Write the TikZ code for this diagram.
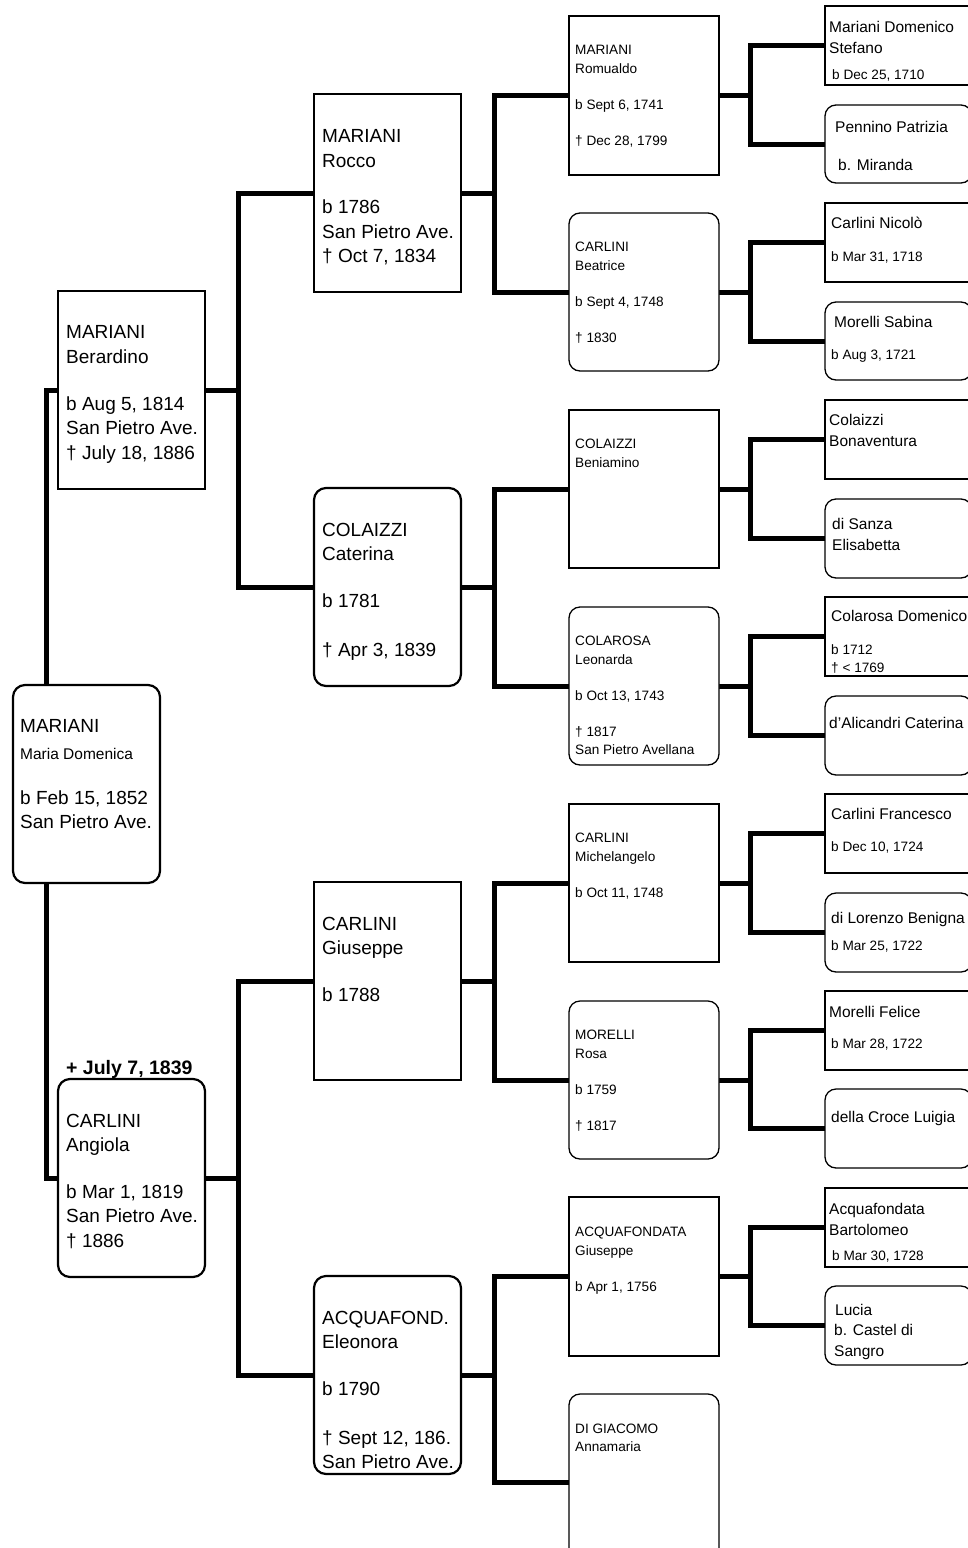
\documentclass[tikz,border=0pt]{standalone}
\usepackage{fontspec}
\setmainfont{Liberation Sans}
\usetikzlibrary{backgrounds}
\begin{document}
\begin{tikzpicture}[x=1pt,y=-1pt,
  bigsq/.style={draw,line width=2.2pt,fill=white,rectangle,inner sep=0pt,outer sep=0pt},
  bigrd/.style={bigsq,rounded corners=12pt},
  smsq/.style={draw,line width=1.3pt,fill=white,rectangle,inner sep=0pt,outer sep=0pt},
  smrd/.style={smsq,rounded corners=11pt},
  conn/.style={draw,line width=5pt,line join=miter},
  big/.style={font=\fontsize{19}{23}\selectfont},
  mid/.style={font=\fontsize{15.5}{18}\selectfont},
  sml/.style={font=\fontsize{13.6}{16}\selectfont},
  tiny/.style={font=\fontsize{13.6}{16}\selectfont},
  mar/.style={font=\bfseries\fontsize{19.5}{22}\selectfont},
  tx/.style={anchor=base west,inner sep=0pt}]
\newcommand\pbox[6]{\node[#1,minimum width={#5-#3},minimum height={#6-#4}] (#2) at ({(#3+#5)/2},{(#4+#6)/2}) {};}
\newcommand\tl[5]{\node[tx,#4] (#1) at (#2,#3) {#5};}
\useasboundingbox (0,0) rectangle (968,1548);
\clip (0,0) rectangle (968,1548);
% boxes
\pbox{bigrd}{maria}{13}{685}{160}{883}
\pbox{bigsq}{berardino}{58}{291}{205}{489}
\pbox{bigrd}{angiola}{58}{1079}{205}{1277}
\pbox{bigsq}{rocco}{314}{94}{461}{292}
\pbox{bigrd}{caterina}{314}{488}{461}{686}
\pbox{bigsq}{giuseppe}{314}{882}{461}{1080}
\pbox{bigrd}{eleonora}{314}{1276}{461}{1474}
\pbox{smsq}{romualdo}{569}{16}{719}{175}
\pbox{smrd}{beatrice}{569}{213}{719}{371}
\pbox{smsq}{beniamino}{569}{410}{719}{568}
\pbox{smrd}{leonarda}{569}{607}{719}{765}
\pbox{smsq}{michelangelo}{569}{804}{719}{962}
\pbox{smrd}{rosa}{569}{1001}{719}{1159}
\pbox{smsq}{giuseppeA}{569}{1197}{719}{1356}
\pbox{smrd}{digiacomo}{569}{1394}{719}{1570}
\pbox{smsq}{stefano}{825}{6}{972}{85}
\pbox{smrd}{patrizia}{825}{105}{972}{183}
\pbox{smsq}{nicolo}{825}{203}{972}{282}
\pbox{smrd}{sabina}{825}{302}{972}{380}
\pbox{smsq}{bonaventura}{825}{400}{972}{479}
\pbox{smrd}{elisabetta}{825}{499}{972}{578}
\pbox{smsq}{domenicoC}{825}{597}{972}{676}
\pbox{smrd}{caterinaA}{825}{696}{972}{775}
\pbox{smsq}{francesco}{825}{794}{972}{873}
\pbox{smrd}{benigna}{825}{893}{972}{972}
\pbox{smsq}{felice}{825}{991}{972}{1070}
\pbox{smrd}{luigia}{825}{1089}{972}{1168}
\pbox{smsq}{bartolomeo}{825}{1188}{972}{1267}
\pbox{smrd}{lucia}{825}{1286}{972}{1365}
% connectors (behind boxes)
\begin{scope}[on background layer]
\draw[conn] ([xshift=33pt]maria.north west) |- (berardino.west);
\draw[conn] ([xshift=33pt]maria.south west) |- (angiola.west);
\draw[conn] (berardino.east) -- ++(33,0) coordinate (j1);
\draw[conn] (rocco.west) -| (j1) |- (caterina.west);
\draw[conn] (angiola.east) -- ++(33,0) coordinate (j2);
\draw[conn] (giuseppe.west) -| (j2) |- (eleonora.west);
\draw[conn] (rocco.east) -- ++(33,0) coordinate (j3);
\draw[conn] (romualdo.west) -| (j3) |- (beatrice.west);
\draw[conn] (caterina.east) -- ++(33,0) coordinate (j4);
\draw[conn] (beniamino.west) -| (j4) |- (leonarda.west);
\draw[conn] (giuseppe.east) -- ++(33,0) coordinate (j5);
\draw[conn] (michelangelo.west) -| (j5) |- (rosa.west);
\draw[conn] (eleonora.east) -- ++(33,0) coordinate (j6);
\draw[conn] (giuseppeA.west) -| (j6) |- (digiacomo.west);
\draw[conn] (romualdo.east) -- ++(31,0) coordinate (k1);
\draw[conn] (stefano.west) -| (k1) |- (patrizia.west);
\draw[conn] (beatrice.east) -- ++(31,0) coordinate (k2);
\draw[conn] (nicolo.west) -| (k2) |- (sabina.west);
\draw[conn] (beniamino.east) -- ++(31,0) coordinate (k3);
\draw[conn] (bonaventura.west) -| (k3) |- (elisabetta.west);
\draw[conn] (leonarda.east) -- ++(31,0) coordinate (k4);
\draw[conn] (domenicoC.west) -| (k4) |- (caterinaA.west);
\draw[conn] (michelangelo.east) -- ++(31,0) coordinate (k5);
\draw[conn] (francesco.west) -| (k5) |- (benigna.west);
\draw[conn] (rosa.east) -- ++(31,0) coordinate (k6);
\draw[conn] (felice.west) -| (k6) |- (luigia.west);
\draw[conn] (giuseppeA.east) -- ++(31,0) coordinate (k7);
\draw[conn] (bartolomeo.west) -| (k7) |- (lucia.west);
\end{scope}
% texts column 1-2
\tl{t1a}{20}{732}{big}{MARIANI}
\tl{t1b}{20}{759}{mid}{Maria Domenica}
\tl{t1c}{20}{804}{big}{b Feb 15, 1852}
\tl{t1d}{20}{828}{big}{San Pietro Ave.}
\tl{t2a}{66}{338}{big}{MARIANI}
\tl{t2b}{66}{363}{big}{Berardino}
\tl{t2c}{66}{410}{big}{b Aug 5, 1814}
\tl{t2d}{66}{434}{big}{San Pietro Ave.}
\tl{t2e}{66}{459}{big}{† July 18, 1886}
\tl{t3a}{66}{1127}{big}{CARLINI}
\tl{t3b}{66}{1151}{big}{Angiola}
\tl{t3c}{66}{1198}{big}{b Mar 1, 1819}
\tl{t3d}{66}{1222}{big}{San Pietro Ave.}
\tl{t3e}{66}{1247}{big}{† 1886}
\tl{mrg}{66}{1074}{mar}{+ July 7, 1839}
% column 3
\tl{t4a}{322}{142}{big}{MARIANI}
\tl{t4b}{322}{167}{big}{Rocco}
\tl{t4c}{322}{213}{big}{b 1786}
\tl{t4d}{322}{238}{big}{San Pietro Ave.}
\tl{t4e}{322}{262}{big}{† Oct 7, 1834}
\tl{t5a}{322}{536}{big}{COLAIZZI}
\tl{t5b}{322}{560}{big}{Caterina}
\tl{t5c}{322}{607}{big}{b 1781}
\tl{t5d}{322}{656}{big}{† Apr 3, 1839}
\tl{t6a}{322}{930}{big}{CARLINI}
\tl{t6b}{322}{954}{big}{Giuseppe}
\tl{t6c}{322}{1001}{big}{b 1788}
\tl{t7a}{322}{1324}{big}{ACQUAFOND.}
\tl{t7b}{322}{1348}{big}{Eleonora}
\tl{t7c}{322}{1395}{big}{b 1790}
\tl{t7d}{322}{1444}{big}{† Sept 12, 186.}
\tl{t7e}{322}{1468}{big}{San Pietro Ave.}
% column 4
\tl{u1a}{575}{54}{sml}{MARIANI}
\tl{u1b}{575}{73}{sml}{Romualdo}
\tl{u1c}{575}{109}{sml}{b Sept 6, 1741}
\tl{u1d}{575}{145}{sml}{† Dec 28, 1799}
\tl{u2a}{575}{251}{sml}{CARLINI}
\tl{u2b}{575}{270}{sml}{Beatrice}
\tl{u2c}{575}{306}{sml}{b Sept 4, 1748}
\tl{u2d}{575}{342}{sml}{† 1830}
\tl{u3a}{575}{448}{sml}{COLAIZZI}
\tl{u3b}{575}{467}{sml}{Beniamino}
\tl{u4a}{575}{645}{sml}{COLAROSA}
\tl{u4b}{575}{664}{sml}{Leonarda}
\tl{u4c}{575}{700}{sml}{b Oct 13, 1743}
\tl{u4d}{575}{736}{sml}{† 1817}
\tl{u4e}{575}{754}{sml}{San Pietro Avellana}
\tl{u5a}{575}{842}{sml}{CARLINI}
\tl{u5b}{575}{861}{sml}{Michelangelo}
\tl{u5c}{575}{897}{sml}{b Oct 11, 1748}
\tl{u6a}{575}{1039}{sml}{MORELLI}
\tl{u6b}{575}{1058}{sml}{Rosa}
\tl{u6c}{575}{1094}{sml}{b 1759}
\tl{u6d}{575}{1130}{sml}{† 1817}
\tl{u7a}{575}{1236}{sml}{ACQUAFONDATA}
\tl{u7b}{575}{1255}{sml}{Giuseppe}
\tl{u7c}{575}{1291}{sml}{b Apr 1, 1756}
\tl{u8a}{575}{1433}{sml}{DI GIACOMO}
\tl{u8b}{575}{1451}{sml}{Annamaria}
% column 5
\tl{v1a}{829}{32}{mid}{Mariani Domenico}
\tl{v1b}{829}{53}{mid}{Stefano}
\tl{v1c}{832}{79}{tiny}{b Dec 25, 1710}
\tl{v2a}{835}{132}{mid}{Pennino Patrizia}
\tl{v2b}{838}{170}{mid}{b. Miranda}
\tl{v3a}{831}{228}{mid}{Carlini Nicolò}
\tl{v3b}{831}{261}{tiny}{b Mar 31, 1718}
\tl{v4a}{834}{327}{mid}{Morelli Sabina}
\tl{v4b}{831}{359}{tiny}{b Aug 3, 1721}
\tl{v5a}{829}{425}{mid}{Colaizzi}
\tl{v5b}{829}{446}{mid}{Bonaventura}
\tl{v6a}{832}{529}{mid}{di Sanza}
\tl{v6b}{832}{550}{mid}{Elisabetta}
\tl{v7a}{831}{621}{mid}{Colarosa Domenico}
\tl{v7b}{831}{654}{tiny}{b 1712}
\tl{v7c}{831}{672}{tiny}{† < 1769}
\tl{v8a}{829}{728}{mid}{d'Alicandri Caterina}
\tl{v9a}{831}{819}{mid}{Carlini Francesco}
\tl{v9b}{831}{851}{tiny}{b Dec 10, 1724}
\tl{v10a}{831}{923}{mid}{di Lorenzo Benigna}
\tl{v10b}{831}{950}{tiny}{b Mar 25, 1722}
\tl{v11a}{829}{1017}{mid}{Morelli Felice}
\tl{v11b}{831}{1048}{tiny}{b Mar 28, 1722}
\tl{v12a}{831}{1122}{mid}{della Croce Luigia}
\tl{v13a}{829}{1214}{mid}{Acquafondata}
\tl{v13b}{829}{1235}{mid}{Bartolomeo}
\tl{v13c}{832}{1260}{tiny}{b Mar 30, 1728}
\tl{v14a}{835}{1315}{mid}{Lucia}
\tl{v14b}{834}{1335}{mid}{b. Castel di}
\tl{v14c}{834}{1356}{mid}{Sangro}
\end{tikzpicture}
\end{document}
